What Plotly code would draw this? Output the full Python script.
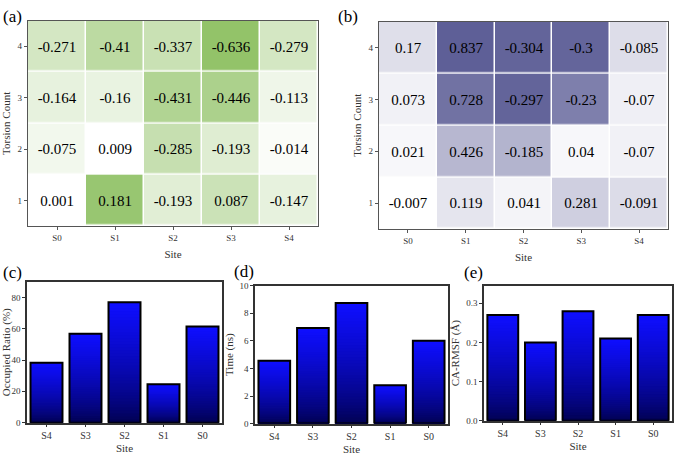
import plotly.graph_objects as go

# heatmap data (rows = torsion count 1..4, cols = sites S0..S4)
heat_sites = ["S0", "S1", "S2", "S3", "S4"]
torsion = [1, 2, 3, 4]

vals_a = [
    [0.001, 0.181, -0.193, 0.087, -0.147],
    [-0.075, 0.009, -0.285, -0.193, -0.014],
    [-0.164, -0.16, -0.431, -0.446, -0.113],
    [-0.271, -0.41, -0.337, -0.636, -0.279],
]
# colour intensity
shade_a = [
    [0.0, 0.95, 0.28, 0.48, 0.22],
    [0.12, 0.0, 0.53, 0.30, 0.05],
    [0.22, 0.20, 0.72, 0.77, 0.15],
    [0.40, 0.62, 0.50, 1.00, 0.40],
]

vals_b = [
    [-0.007, 0.119, 0.041, 0.281, -0.091],
    [0.021, 0.426, -0.185, 0.04, -0.07],
    [0.073, 0.728, -0.297, -0.23, -0.07],
    [0.17, 0.837, -0.304, -0.3, -0.085],
]
shade_b = [
    [0.0, 0.16, 0.07, 0.30, 0.22],
    [0.05, 0.45, 0.47, 0.05, 0.09],
    [0.09, 0.88, 0.97, 0.80, 0.10],
    [0.20, 1.00, 0.97, 0.96, 0.21],
]

# bar data
bar_sites = ["S4", "S3", "S2", "S1", "S0"]
occupied = [38.2, 56.8, 77.0, 24.5, 61.4]
time_ns = [4.55, 6.93, 8.75, 2.78, 6.0]
rmsf = [0.27, 0.20, 0.28, 0.21, 0.27]

FONT = "Liberation Serif"
W, H = 675, 456


def px_dom_x(a, b):
    return [a / W, b / W]


def px_dom_y(top, bottom):
    return [1 - bottom / H, 1 - top / H]


fig = go.Figure()

# heatmaps
for vals, shade, ax, dark in [
    (vals_a, shade_a, "1", "#93c369"),
    (vals_b, shade_b, "2", "#5e5f97"),
]:
    fig.add_trace(go.Heatmap(
        x=heat_sites, y=torsion, z=shade, text=vals,
        texttemplate="%{text}", textfont=dict(size=15, family=FONT, color="black"),
        colorscale=[[0, "#ffffff"], [1, dark]], zmin=0, zmax=1,
        showscale=False, xgap=1.5, ygap=1.5, hoverinfo="skip",
        xaxis="x" + ax, yaxis="y" + ax,
    ))

# gradient bars: stack of shrinking bars from bright (top) to dark (bottom)
N = 40
dark_rgb = (0, 0, 70)
bright_rgb = (14, 14, 255)


def grad_color(f):
    f = f ** 0.7
    c = [round(d + (b - d) * f) for d, b in zip(dark_rgb, bright_rgb)]
    return "rgb(%d,%d,%d)" % tuple(c)


for vals, ax in [(occupied, "3"), (time_ns, "4"), (rmsf, "5")]:
    for k in range(N, 0, -1):
        fig.add_trace(go.Bar(
            x=bar_sites, y=[v * k / N for v in vals], width=0.82,
            marker=dict(color=grad_color(k / N), line=dict(width=0)),
            showlegend=False, hoverinfo="skip", xaxis="x" + ax, yaxis="y" + ax,
        ))
    fig.add_trace(go.Bar(
        x=bar_sites, y=vals, width=0.82,
        marker=dict(color="rgba(0,0,0,0)", line=dict(color="black", width=2)),
        showlegend=False, xaxis="x" + ax, yaxis="y" + ax,
    ))

tickf = dict(family=FONT, size=9, color="#333")
titlef = dict(family=FONT, size=11, color="#333")

heat_x = dict(showline=True, mirror=True, linecolor="#555", linewidth=1.2,
              ticks="outside", ticklen=3, tickcolor="#555", tickfont=tickf,
              title=dict(text="Site", font=titlef, standoff=8), showgrid=False)
heat_y = dict(showline=True, mirror=True, linecolor="#555", linewidth=1.2,
              ticks="outside", ticklen=3, tickcolor="#555", tickfont=tickf,
              title=dict(text="Torsion Count", font=titlef, standoff=4),
              showgrid=False, dtick=1)

bar_x = dict(showline=True, mirror=True, linecolor="#333", linewidth=1.5,
             ticks="outside", ticklen=3, tickcolor="#333",
             tickfont=dict(family=FONT, size=10, color="#333"),
             title=dict(text="Site", font=titlef, standoff=4),
             showgrid=False, range=[-0.5, 4.5],
             categoryorder="array", categoryarray=bar_sites)
bar_y = dict(showline=True, mirror=True, linecolor="#333", linewidth=1.5,
             ticks="outside", ticklen=3, tickcolor="#333", tickfont=tickf,
             showgrid=False, zeroline=False)

fig.update_layout(
    width=W, height=H, margin=dict(l=0, r=0, t=0, b=0),
    paper_bgcolor="white", plot_bgcolor="white",
    barmode="overlay", bargap=0.18, showlegend=False,
    font=dict(family=FONT),
    xaxis1=dict(heat_x, domain=px_dom_x(28, 318), anchor="y1"),
    yaxis1=dict(heat_y, domain=px_dom_y(16, 226), anchor="x1"),
    xaxis2=dict(heat_x, domain=px_dom_x(379, 668), anchor="y2"),
    yaxis2=dict(heat_y, domain=px_dom_y(17, 229), anchor="x2"),
    xaxis3=dict(bar_x, domain=px_dom_x(27, 222), anchor="y3"),
    yaxis3=dict(bar_y, domain=px_dom_y(283, 427), anchor="x3", range=[0, 90], dtick=20,
                title=dict(text="Occupied Ratio (%)", font=titlef, standoff=4)),
    xaxis4=dict(bar_x, domain=px_dom_x(255, 428 + 20), anchor="y4"),
    yaxis4=dict(bar_y, domain=px_dom_y(287, 428), anchor="x4", range=[0, 10], dtick=2,
                title=dict(text="Time (ns)", font=titlef, standoff=4)),
    xaxis5=dict(bar_x, domain=px_dom_x(484, 672), anchor="y5"),
    yaxis5=dict(bar_y, domain=px_dom_y(287, 425), anchor="x5", range=[0, 0.345], dtick=0.1,
                tickformat=".1f",
                title=dict(text="CA-RMSF (Å)", font=titlef, standoff=4)),
)

labels = [("(a)", 1, 0), ("(b)", 336, 0), ("(c)", 1, 262), ("(d)", 232, 261), ("(e)", 462, 262)]
for txt, x, y in labels:
    fig.add_annotation(text=txt, x=x / W, y=1 - y / H, xref="paper", yref="paper",
                       xanchor="left", yanchor="top", showarrow=False,
                       font=dict(family=FONT, size=17, color="black"))

fig.write_html("out.html", config={"displayModeBar": False},
               post_script="document.body.style.margin='0px';")
